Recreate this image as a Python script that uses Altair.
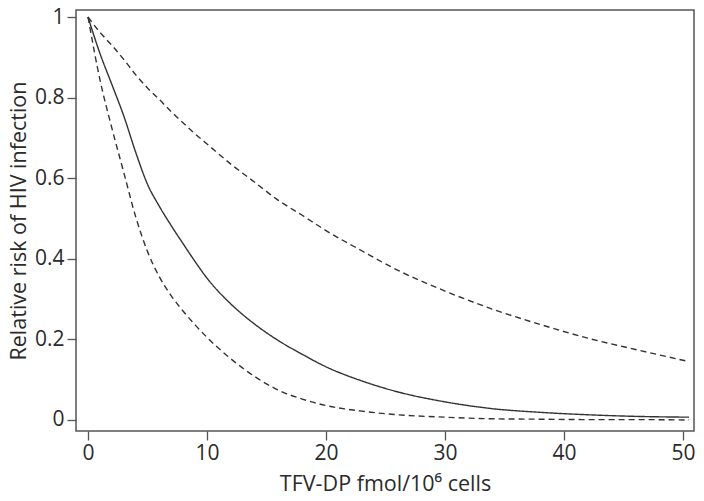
import altair as alt
import pandas as pd

# TFV-DP concentration (fmol/10^6 cells)
x_vals = [0, 1, 2, 3, 4, 5, 6, 7, 8, 9, 10, 12, 14, 16, 18, 20, 23, 26, 30, 34, 38, 42, 46, 50.5]

# Relative risk estimate (solid) and confidence bounds (dashed)
estimate = [1.0, 0.91, 0.833, 0.755, 0.665, 0.585, 0.53, 0.482, 0.437, 0.393, 0.352, 0.288, 0.238,
            0.197, 0.163, 0.132, 0.097, 0.07, 0.045, 0.028, 0.019, 0.013, 0.009, 0.007]
upper = [1.0, 0.962, 0.93, 0.895, 0.857, 0.824, 0.795, 0.765, 0.737, 0.71, 0.685, 0.635, 0.59,
         0.545, 0.508, 0.47, 0.42, 0.372, 0.32, 0.275, 0.237, 0.203, 0.175, 0.145]
lower = [1.0, 0.845, 0.725, 0.615, 0.505, 0.418, 0.355, 0.308, 0.27, 0.236, 0.205, 0.152, 0.108,
         0.074, 0.052, 0.036, 0.022, 0.013, 0.007, 0.003, 0.002, 0.001, 0.001, 0.0]

y_ticks = [0, 0.2, 0.4, 0.6, 0.8, 1]
x_ticks = [0, 10, 20, 30, 40, 50]

rows = []
for name, ys in (("estimate", estimate), ("upper", upper), ("lower", lower)):
    for xv, yv in zip(x_vals, ys):
        rows.append({"x": xv, "y": yv, "series": name})
df = pd.DataFrame(rows)

FONT = "Open Sans"
TXT = "#2b2b2b"

chart = (
    alt.Chart(df)
    .mark_line(color="#333333", strokeWidth=1.4, interpolate="monotone")
    .encode(
        x=alt.X(
            "x:Q",
            scale=alt.Scale(domain=[-1.008, 50.92], nice=False, zero=False),
            axis=alt.Axis(
                values=x_ticks,
                title="TFV-DP fmol/10⁶ cells",
                format="d",
                tickSize=9,
                labelPadding=2,
                titlePadding=10,
                grid=False,
                domain=False,
            ),
        ),
        y=alt.Y(
            "y:Q",
            scale=alt.Scale(domain=[-0.0273, 1.0174], nice=False, zero=False),
            axis=alt.Axis(
                values=y_ticks,
                title="Relative risk of HIV infection",
                format="~g",
                tickSize=9,
                labelPadding=3,
                titlePadding=4,
                grid=False,
                domain=False,
            ),
        ),
        detail="series:N",
        strokeDash=alt.StrokeDash(
            "series:N",
            scale=alt.Scale(domain=["estimate", "upper", "lower"], range=[[1, 0], [6, 4], [6, 4]]),
            legend=None,
        ),
    )
    .properties(
        width=618,
        height=421,
        autosize=alt.AutoSizeParams(type="none"),
        padding={"left": 68, "top": 2, "right": 2, "bottom": 62},
    )
    .configure_view(stroke="#555555", strokeWidth=1.5)
    .configure_axis(
        labelFont=FONT,
        titleFont=FONT,
        labelFontSize=21,
        titleFontSize=21.5,
        titleFontWeight="normal",
        labelColor=TXT,
        titleColor=TXT,
        tickColor="#555555",
        tickWidth=1.3,
    )
)

chart.save("out.html", embed_options={"renderer": "svg", "actions": False})
